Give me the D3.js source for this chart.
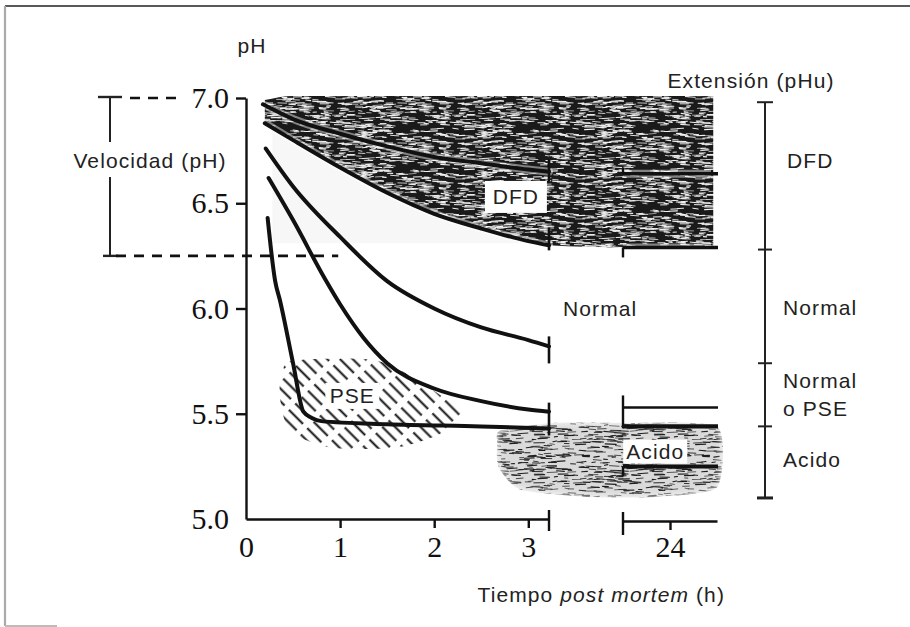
<!DOCTYPE html>
<html>
<head>
<meta charset="utf-8">
<script src="https://cdn.jsdelivr.net/npm/d3@7"></script>
<style>
  html, body { margin: 0; padding: 0; background: #fff; }
  svg { display: block; }
  .lbl { font-family: "Liberation Sans", Arial, sans-serif; font-size: 21px; fill: #222; letter-spacing: 1.1px; }
  .tick text { font-family: "Liberation Serif", "Times New Roman", serif; font-size: 30px; fill: #111; }
</style>
</head>
<body>
<svg id="chart" width="910" height="627"></svg>
<script>
// ---------------- DATA ----------------
const yTicks = [5.0, 5.5, 6.0, 6.5, 7.0];
const xTicksEarly = [0, 1, 2, 3];
const xTicksLate = [24];

// pH fall curves (time h, pH)
const curveDFDhigh = [[0.18,6.97],[0.5,6.90],[1.0,6.83],[1.5,6.77],[2.0,6.72],[2.5,6.69],[3.0,6.66],[3.22,6.65]];
const curveDFD     = [[0.20,6.88],[0.5,6.80],[1.0,6.67],[1.5,6.55],[2.0,6.45],[2.5,6.38],[3.0,6.32],[3.22,6.30]];
const curveNormal  = [[0.21,6.76],[0.5,6.58],[1.0,6.34],[1.5,6.13],[2.0,6.00],[2.5,5.91],[3.0,5.85],[3.22,5.82]];
const curveNormPSE = [[0.24,6.62],[0.5,6.42],[0.84,6.14],[1.0,6.02],[1.25,5.86],[1.5,5.74],[2.0,5.62],[2.5,5.56],[3.0,5.52],[3.22,5.51]];
const curvePSE     = [[0.23,6.43],[0.31,6.13],[0.36,6.04],[0.5,5.74],[0.61,5.51],[0.70,5.48],[0.80,5.465],[1.5,5.45],[2.5,5.44],[3.22,5.43]];

// ultimate pH at 24 h
const ultimateTimes = [23.5, 24.5];
const ultimatePH = [6.64, 6.29, 5.53, 5.44, 5.25];

// Extension (pHu) bracket boundaries and categories
const extensionBounds = [6.98, 6.28, 5.74, 5.44, 5.10];
const extensionCats = ["DFD", "Normal", "Normal|o PSE", "Acido"];

// Velocidad (pH) bracket
const velocityRange = [6.25, 7.0];

// Shaded zones (time h, pH)
const dfdZoneTop = 7.01;
const dfdZoneBottom = [[0.20,6.88],[0.5,6.80],[1.0,6.67],[1.5,6.55],[2.0,6.45],[2.5,6.38],[3.0,6.32],[3.22,6.30],[23.5,6.29],[24.46,6.29]];
const pseZone = [[0.54,5.755],[1.35,5.755],[1.82,5.66],[2.30,5.50],[2.09,5.41],[1.60,5.34],[0.89,5.34],[0.47,5.42],[0.36,5.58],[0.39,5.71]];
const acidZone = [[2.70,5.42],[4.32,5.456],[22.68,5.456],[24.5,5.44],[24.5,5.15],[23.82,5.105],[13.63,5.105],[2.91,5.14],[2.68,5.25],[2.67,5.36]];

// ---------------- LAYOUT ----------------
const svg = d3.select("#chart");
const L = 246, B1 = 549, B2 = 623, R = 717, T = 98, BOT = 519;

const y = d3.scaleLinear().domain([5, 7]).range([BOT, T]);
const xEarly = d3.scaleLinear().domain([0, 3.22]).range([L, B1]);
const xLate = d3.scaleLinear().domain([23.5, 24.5]).range([B2, R]);
const x = d3.scaleLinear().domain([0, 3.22, 23.5, 24.5]).range([L, B1, B2, R]);

// ---------------- PATTERNS (texture styling only) ----------------
const defs = svg.append("defs");
const rnd = d3.randomLcg(0.4217);
function scribbleTile(id, w, h, bg, fg, n, minL, maxL, sw) {
  const p = defs.append("pattern").attr("id", id).attr("patternUnits","userSpaceOnUse")
    .attr("width", w).attr("height", h);
  p.append("rect").attr("width", w).attr("height", h).attr("fill", bg);
  for (let i = 0; i < n; i++) {
    const x0 = rnd() * w, y0 = rnd() * h, len = minL + rnd() * (maxL - minL), dy = (rnd() - 0.5) * 1.6;
    const s = sw * (0.6 + rnd() * 0.7);
    [-w, 0, w].forEach(off => {
      p.append("line").attr("x1", x0 + off).attr("x2", x0 + off + len).attr("y1", y0).attr("y2", y0 + dy)
        .attr("stroke", fg).attr("stroke-width", s).attr("stroke-linecap","round");
    });
  }
}
scribbleTile("dfdTex", 120, 40, "#1a1a1a", "#f2f2f2", 270, 3, 10, 0.95);
scribbleTile("acidTex", 120, 40, "#dadada", "#1e1e1e", 190, 3, 11, 1.0);

// PSE hatch
const pH = defs.append("pattern").attr("id","pseHatch").attr("patternUnits","userSpaceOnUse")
  .attr("width",9).attr("height",26).attr("patternTransform","rotate(-45)");
pH.append("line").attr("x1",4.5).attr("x2",4.5).attr("y1",0).attr("y2",20)
  .attr("stroke","#111").attr("stroke-width",2);

// soft mask for acid zone
const fMask = defs.append("filter").attr("id","maskBlur").attr("x","-20%").attr("y","-30%").attr("width","140%").attr("height","160%");
fMask.append("feGaussianBlur").attr("stdDeviation",4);
const acidLine = d3.line().x(d=>x(d[0])).y(d=>y(d[1])).curve(d3.curveCardinalClosed.tension(0.4));
const mask = defs.append("mask").attr("id","acidMask");
mask.append("path").datum(acidZone).attr("d", acidLine).attr("fill","#fff").attr("filter","url(#maskBlur)");

// ---------------- FRAME ----------------
svg.append("line").attr("x1",5).attr("x2",910).attr("y1",6).attr("y2",6).attr("stroke","#222").attr("stroke-width",1.6);
svg.append("line").attr("x1",5).attr("x2",5).attr("y1",6).attr("y2",626).attr("stroke","#aaa").attr("stroke-width",2.2);
svg.append("line").attr("x1",5).attr("x2",57).attr("y1",626).attr("y2",626).attr("stroke","#bbb").attr("stroke-width",2);

// ---------------- ZONES ----------------
svg.append("rect").attr("x",x(0.28)).attr("y",y(7.0)).attr("width",x(3.22)-x(0.28)).attr("height",y(6.31)-y(7.0))
  .attr("fill","#f7f7f7");
svg.append("path").datum(dfdZoneBottom)
  .attr("d", d3.area().x(d=>x(d[0])).y0(d=>y(d[1])).y1((d,i)=> i===0 ? y(6.99) : y(dfdZoneTop)).curve(d3.curveMonotoneX))
  .attr("fill","url(#dfdTex)");
svg.append("path").datum(acidZone)
  .attr("d", acidLine)
  .attr("fill","url(#acidTex)").attr("mask","url(#acidMask)");
svg.append("path").datum(pseZone)
  .attr("d", d3.line().x(d=>x(d[0])).y(d=>y(d[1])).curve(d3.curveCardinalClosed.tension(0.2)))
  .attr("fill","url(#pseHatch)");

// ---------------- AXES ----------------
const yAxis = svg.append("g").attr("transform",`translate(${L},0)`)
  .call(d3.axisLeft(y).tickValues(yTicks).tickFormat(d3.format(".1f")).tickSize(10).tickSizeOuter(0).tickPadding(7));
yAxis.select(".domain").attr("stroke","#111").attr("stroke-width",2.4);
yAxis.selectAll(".tick line").attr("stroke","#111").attr("stroke-width",2.4)
  .attr("display", d => d === 5.0 ? "none" : null);

const xa1 = svg.append("g").attr("transform",`translate(0,${BOT})`)
  .call(d3.axisBottom(xEarly).tickValues(xTicksEarly).tickFormat(d3.format("d")).tickSize(9).tickSizeOuter(0).tickPadding(8));
xa1.selectAll(".tick line").attr("display", d => d === 0 ? "none" : null);
const xa2 = svg.append("g").attr("transform",`translate(0,${BOT+2})`)
  .call(d3.axisBottom(xLate).tickValues(xTicksLate).tickFormat(d3.format("d")).tickSize(9).tickSizeOuter(0).tickPadding(6));
[xa1, xa2].forEach(g => {
  g.select(".domain").attr("stroke","#111").attr("stroke-width",2.4);
  g.selectAll(".tick line").attr("stroke","#111").attr("stroke-width",2.4);
});
svg.append("line").attr("x1",xEarly(3.22)).attr("x2",xEarly(3.22)).attr("y1",BOT-9).attr("y2",BOT+12).attr("stroke","#111").attr("stroke-width",2.4);
svg.append("line").attr("x1",xLate(23.5)).attr("x2",xLate(23.5)).attr("y1",BOT-7).attr("y2",BOT+16).attr("stroke","#111").attr("stroke-width",2.4);

// ---------------- CURVES ----------------
const line = d3.line().x(d=>x(d[0])).y(d=>y(d[1])).curve(d3.curveMonotoneX);
const curves = [curveDFDhigh, curveDFD, curveNormal, curveNormPSE, curvePSE];
const barExt = [[-12,10],[-18,5],[-10,17],[-9,15],[-2,7]];
// light halo for the curves crossing the dark DFD texture
[curveDFDhigh, curveDFD].forEach(c => {
  svg.append("path").datum(c).attr("d", line).attr("fill","none")
    .attr("stroke","#fff").attr("stroke-opacity",0.45).attr("stroke-width",8).attr("stroke-linecap","round");
});
[ultimatePH[0], ultimatePH[1]].forEach(p => {
  svg.append("line").attr("x1",x(ultimateTimes[0])).attr("x2",x(ultimateTimes[1])-6)
    .attr("y1",y(p)).attr("y2",y(p)).attr("stroke","#fff").attr("stroke-opacity",0.45).attr("stroke-width",8);
});
curves.forEach((c, i) => {
  svg.append("path").datum(c).attr("d", line).attr("fill","none")
    .attr("stroke","#111").attr("stroke-width",4).attr("stroke-linejoin","round").attr("stroke-linecap","round");
  const last = c[c.length-1];
  svg.append("line").attr("x1",x(last[0])).attr("x2",x(last[0]))
    .attr("y1",y(last[1])+barExt[i][0]).attr("y2",y(last[1])+barExt[i][1])
    .attr("stroke","#111").attr("stroke-width",2.6);
});

const ultW = [3.6, 3.6, 2.6, 4.2, 4.0];
ultimatePH.forEach((p, i) => {
  svg.append("line").attr("x1",x(ultimateTimes[0])).attr("x2",x(ultimateTimes[1])+1)
    .attr("y1",y(p)).attr("y2",y(p)).attr("stroke","#111").attr("stroke-width",ultW[i]);
});
svg.append("line").attr("x1",x(23.5)).attr("x2",x(23.5)).attr("y1",y(ultimatePH[2])-12).attr("y2",y(ultimatePH[3])+2).attr("stroke","#111").attr("stroke-width",2.4);
svg.append("line").attr("x1",x(23.5)).attr("x2",x(23.5)).attr("y1",y(ultimatePH[4])).attr("y2",y(ultimatePH[4])+10).attr("stroke","#111").attr("stroke-width",2.4);
svg.append("line").attr("x1",x(23.5)).attr("x2",x(23.5)).attr("y1",y(ultimatePH[1])).attr("y2",y(ultimatePH[1])+10).attr("stroke","#111").attr("stroke-width",2.4);
svg.append("line").attr("x1",x(23.5)).attr("x2",x(23.5)).attr("y1",y(ultimatePH[0])-6).attr("y2",y(ultimatePH[0])).attr("stroke","#111").attr("stroke-width",2.4);

// ---------------- LABEL BOXES ----------------
function boxLabel(cx, cy, text, w, h) {
  svg.append("rect").attr("x",cx-w/2).attr("y",cy-h/2).attr("width",w).attr("height",h).attr("fill","#fff");
  svg.append("text").attr("class","lbl").attr("x",cx).attr("y",cy).attr("text-anchor","middle")
    .attr("dominant-baseline","central").text(text);
}
boxLabel(x(2.9)-3, y(6.53), "DFD", 62, 32);
boxLabel(x(1.13), y(5.58)-1, "PSE", 54, 26);
boxLabel(x(23.8)+4, y(5.32), "Acido", 64, 24);

svg.append("text").attr("class","lbl").attr("x",x(3.22)+14).attr("y",y(6.0)).attr("dominant-baseline","central").text("Normal");

// ---------------- VELOCIDAD BRACKET ----------------
const vx = 110;
const vTop = y(velocityRange[1]), vBot = y(velocityRange[0]);
svg.append("line").attr("x1",vx).attr("x2",vx).attr("y1",vTop).attr("y2",vTop+44).attr("stroke","#222").attr("stroke-width",2);
svg.append("line").attr("x1",vx).attr("x2",vx).attr("y1",vTop+79).attr("y2",vBot).attr("stroke","#222").attr("stroke-width",2);
svg.append("line").attr("x1",vx-12).attr("x2",vx+12).attr("y1",vTop-1).attr("y2",vTop-1).attr("stroke","#222").attr("stroke-width",2.4);
svg.append("line").attr("x1",vx-7).attr("x2",vx+8).attr("y1",vBot).attr("y2",vBot).attr("stroke","#222").attr("stroke-width",2.4);
svg.append("text").attr("class","lbl").attr("x",150).attr("y",vTop+62).attr("text-anchor","middle")
  .attr("dominant-baseline","central").text("Velocidad (pH)");
svg.append("line").attr("x1",130).attr("x2",178).attr("y1",vTop).attr("y2",vTop)
  .attr("stroke","#111").attr("stroke-width",2.6).attr("stroke-dasharray","10,8");
svg.append("line").attr("x1",116).attr("x2",x(0.98)).attr("y1",vBot).attr("y2",vBot)
  .attr("stroke","#111").attr("stroke-width",2.6).attr("stroke-dasharray","10,8");

// ---------------- EXTENSION BRACKET ----------------
const ex = 765;
svg.append("line").attr("x1",ex).attr("x2",ex).attr("y1",y(extensionBounds[0])).attr("y2",y(extensionBounds[4]))
  .attr("stroke","#222").attr("stroke-width",2);
extensionBounds.forEach((b, i) => {
  const w = (i === 0 || i === 4) ? 8 : 7;
  svg.append("line").attr("x1",ex-w).attr("x2",ex+w).attr("y1",y(b)).attr("y2",y(b))
    .attr("stroke","#222").attr("stroke-width", (i === 4) ? 3 : 2);
});
const catY = [y(6.705), y(6.007), y(5.66), y(5.285)];
extensionCats.forEach((c, i) => {
  const parts = c.split("|");
  parts.forEach((p, j) => {
    svg.append("text").attr("class","lbl").attr("x", i===0 ? 787 : 783).attr("y", catY[i] + j*28)
      .attr("dominant-baseline","central").text(p);
  });
});
svg.append("text").attr("class","lbl").attr("x",751).attr("y",80).attr("text-anchor","middle")
  .attr("dominant-baseline","central").text("Extensión (pHu)");

// ---------------- AXIS TITLES ----------------
svg.append("text").attr("class","lbl").attr("x",252).attr("y",45).attr("text-anchor","middle")
  .attr("dominant-baseline","central").text("pH");
const tt = svg.append("text").attr("class","lbl").attr("x",725).attr("y",594).attr("text-anchor","end")
  .attr("dominant-baseline","central");
tt.append("tspan").text("Tiempo ");
tt.append("tspan").attr("font-style","italic").text("post mortem");
tt.append("tspan").text(" (h)");
</script>
</body>
</html>
